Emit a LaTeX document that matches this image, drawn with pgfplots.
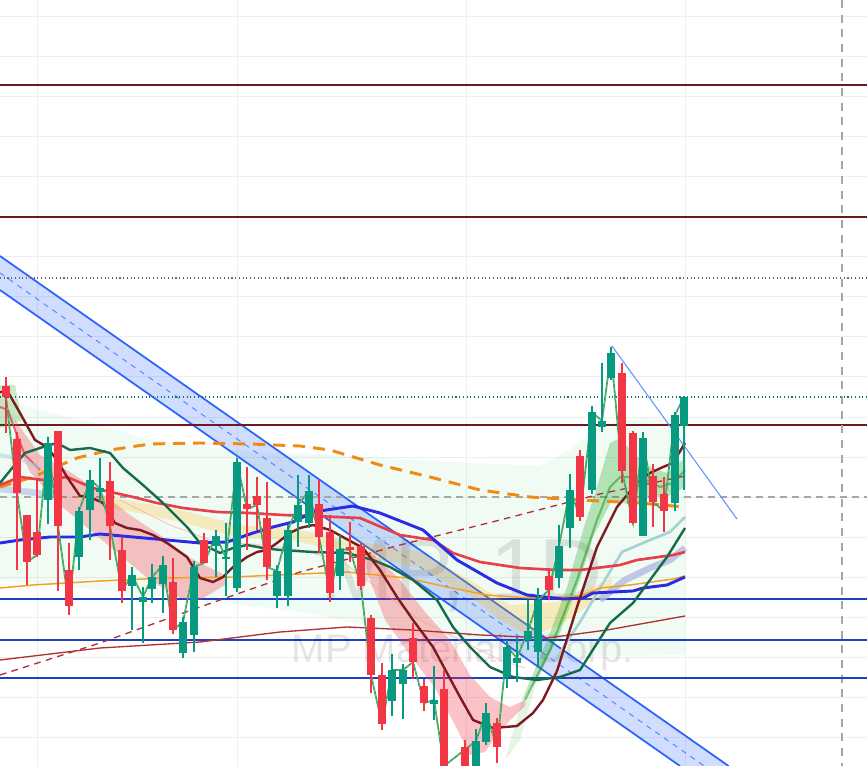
\documentclass[border=0pt]{standalone}
\usepackage{fontspec}
\setmainfont{Liberation Sans}
\usepackage{pgfplots}
\usepackage{pgfplotstable}
\pgfplotsset{compat=1.18}
\definecolor{cgreen}{HTML}{089981}
\definecolor{cred}{HTML}{F23645}
\definecolor{maroon}{HTML}{7E1A1E}
\definecolor{dkgreen}{HTML}{176B4D}
\definecolor{mablue}{HTML}{2B2BE6}
\definecolor{mared}{HTML}{E8404A}
\definecolor{maorange}{HTML}{F5A020}
\definecolor{dashorange}{HTML}{F08A12}
\definecolor{thinmaroon}{HTML}{B03035}
\definecolor{hlmaroon}{HTML}{6B1A1F}
\definecolor{hlblue}{HTML}{1E40C8}
\definecolor{chan}{HTML}{2962FF}
\definecolor{gridc}{HTML}{EEEEEE}

\pgfplotstableread{
x o h l c
6 386 377 433 397
17 439 432 570 493
27 515 515 585 562
37 532 478 557 555
58 431 431 591 526
69 570 543 615 606
110 481 462 560 526
122 550 537 603 591
173 582 558 634 630
204 540 533 563 563
247 504 467 550 509
257 496 477 530 505
267 518 482 580 567
319 504 480 553 537
330 532 515 602 593
350 547 522 562 550
361 546 543 590 586
371 618 615 693 675
382 675 663 730 724
413 638 623 679 662
424 686 679 711 703
444 689 670 766 766
465 747 740 766 766
497 723 718 763 747
549 576 568 600 590
580 456 450 521 517
622 373 363 483 471
633 433 431 524 523
653 476 464 527 502
664 494 477 532 511
}\redc

\pgfplotstableread{
x o h l c
48 500 437 524 443
79 557 507 570 511
90 510 470 540 480
100 492 458 503 488
132 586 567 630 575
143 602 587 643 597
152 589 564 603 577
163 584 556 613 565
183 653 617 658 622
194 635 561 652 567
216 546 530 577 536
226 559 523 596 557
237 588 458 592 462
277 596 565 608 571
288 596 525 606 530
298 522 475 547 505
309 523 475 528 491
340 576 535 590 549
392 701 654 716 670
403 684 664 719 670
434 704 666 720 700
476 766 729 766 741
486 742 703 745 713
507 677 640 688 647
517 663 637 682 658
528 640 600 650 631
538 652 588 666 600
559 578 525 588 546
570 528 474 548 490
592 490 406 494 412
602 427 363 432 421
611 378 347 380 353
643 536 432 536 438
675 503 412 511 415
684 426 396 490 397
}\greenc

\begin{document}
\begin{tikzpicture}
\begin{axis}[
  width=650.25pt, height=574.5pt, scale only axis,
  xmin=0, xmax=867, ymin=0, ymax=766, y dir=reverse,
  hide axis, clip=true,
]
% grid
\pgfplotsinvokeforeach{17,57,97,137,177,217,257,297,337,377,417,457,497,537,577,617,657,697,737}{
  \addplot[gridc, line width=0.75pt, forget plot] coordinates {(0,#1) (867,#1)};
}
\pgfplotsinvokeforeach{37,237,466,685}{
  \addplot[gridc, line width=0.75pt, forget plot] coordinates {(#1,0) (#1,766)};
}
% faint green cloud
\addplot[draw=none, fill=green!50!teal, fill opacity=0.06] coordinates {
 (0,398) (40,410) (100,425) (150,440) (250,452) (350,456) (450,462) (540,466) (570,450) (600,425) (640,418) (685,420)
 (685,655) (600,656) (540,660) (470,642) (400,632) (300,612) (200,600) (100,590) (0,580)} -- cycle;
% channel
\addplot[draw=none, fill=chan, fill opacity=0.22] coordinates {(0,256) (728.6,766) (680,766) (0,290)} -- cycle;
\addplot[chan, line width=1.3pt] coordinates {(0,256) (728.6,766)};
\addplot[chan, line width=1.3pt] coordinates {(0,290) (680,766)};
\addplot[chan!80, line width=0.7pt, dash pattern=on 4pt off 4pt] coordinates {(0,273) (704.3,766)};
% horizontal levels
\addplot[hlmaroon, line width=0.9pt] coordinates {(0,85) (867,85)};
\addplot[hlmaroon, line width=0.9pt] coordinates {(0,217) (867,217)};
\addplot[hlmaroon, line width=0.9pt] coordinates {(0,425) (867,425)};
\addplot[gray!80!black, line width=0.8pt, dotted] coordinates {(0,278) (867,278)};
\addplot[cgreen!80!black, line width=0.8pt, dotted] coordinates {(0,397) (867,397)};
\addplot[gray!70, line width=0.8pt, dash pattern=on 5pt off 4pt] coordinates {(0,497) (867,497)};
\addplot[gray!70, line width=0.8pt, dash pattern=on 6pt off 5pt] coordinates {(842,0) (842,766)};
\addplot[hlblue, line width=0.9pt] coordinates {(0,599) (867,599)};
\addplot[hlblue, line width=0.9pt] coordinates {(0,640) (867,640)};
\addplot[hlblue, line width=0.9pt] coordinates {(0,678) (867,678)};
% watermark
\node[text=black, opacity=0.10, font=\fontsize{66pt}{66pt}\selectfont, anchor=base] at (axis cs:462,600) {MP, 1D};
\node[text=black, opacity=0.10, font=\fontsize{30pt}{30pt}\selectfont, anchor=base] at (axis cs:463,662) {MP Materials Corp.};
% beige band
\addplot[draw=none, fill=orange!60!yellow, fill opacity=0.22] coordinates {
 (100,495) (180,510) (240,525) (290,528) (350,540) (420,552) (470,580) (510,605) (560,602) (590,588) (612,578)
 (612,590) (590,605) (560,625) (530,637) (500,620) (470,596) (420,568) (350,553) (290,540) (240,538) (180,522) (100,505)} -- cycle;
% pink bands
\addplot[draw=none, fill=cred, fill opacity=0.30] coordinates {
 (15,420) (40,455) (70,472) (100,492) (130,515) (160,535) (190,558) (225,575)
 (225,585) (200,600) (180,598) (150,580) (120,555) (90,530) (60,505) (30,472) (15,440)} -- cycle;
\addplot[draw=none, fill=cred, fill opacity=0.30] coordinates {
 (362,548) (380,560) (400,580) (425,612) (450,640) (470,675) (490,697) (510,707) (525,700)
 (525,706) (500,730) (485,752) (470,755) (455,725) (435,688) (410,655) (385,620) (368,575)} -- cycle;
\addplot[pink!80!red, line width=0.8pt, opacity=0.5] coordinates {(120,500) (170,525) (210,540) (260,545) (300,550) (340,560) (380,590) (420,620) (460,640) (500,660) (525,668)};
% green band right
\addplot[draw=none, fill=green!60!black, fill opacity=0.10] coordinates {(505,760) (522,700) (537,680) (520,740)} -- cycle;
\addplot[draw=none, fill=green!60!black, fill opacity=0.25] coordinates {
 (522,700) (550,633) (567,587) (583,530) (597,487) (610,443) (620,438) (633,453) (650,467) (667,473) (685,458)
 (685,487) (667,497) (650,497) (632,505) (612,500) (593,537) (580,580) (560,633) (537,680)} -- cycle;
\addplot[green!55!black, line width=1.6pt, opacity=0.45] coordinates {(525,700) (550,650) (577,580) (597,520) (610,487) (620,477) (640,477) (660,487) (673,483) (685,470)};
% left bits
\addplot[draw=none, fill=green!60!black, fill opacity=0.2] coordinates {(0,385) (15,385) (22,420) (0,428)} -- cycle;
\addplot[mared, line width=1.4pt, opacity=0.8] coordinates {(0,407) (8,410) (15,430) (25,455) (40,470)};
\addplot[cyan!40!teal!40, line width=3pt, opacity=0.5] coordinates {(0,455) (20,459) (40,468)};
\addplot[cyan!50!blue!35, line width=5pt, opacity=0.6] coordinates {(0,489) (30,492) (60,497)};
% light teal and light blue on right
\addplot[teal!35, line width=2pt] coordinates {(555,660) (580,622) (600,588) (622,552) (650,540) (670,532) (685,517)};
\addplot[cyan!30!blue!30, line width=5pt, opacity=0.8] coordinates {(600,600) (625,580) (650,568) (670,560) (685,548)};
% MAs
\addplot[thinmaroon, line width=1pt] coordinates {(0,660) (100,648) (200,642) (280,632) (347,627) (413,630) (480,635) (547,638) (607,630) (685,616)};
\addplot[maorange, line width=1.1pt] coordinates {(0,588) (33,585) (100,581) (167,578) (233,577) (300,574) (347,572) (407,578) (447,587) (487,595) (530,598) (580,596) (600,588) (630,585) (673,579) (685,576)};
\addplot[thinmaroon, line width=1pt, dash pattern=on 5pt off 4pt] coordinates {(0,675) (100,643) (200,607) (300,572) (400,545) (500,520) (600,494) (685,476)};
\addplot[dashorange, line width=2.2pt, dash pattern=on 9pt off 6pt] coordinates {(0,487) (33,477) (77,458) (110,450) (150,444) (200,443) (250,444) (300,446) (330,450) (380,465) (430,477) (480,490) (530,497) (580,500) (640,503) (685,507)};
\addplot[mared, line width=2pt] coordinates {(0,485) (20,477) (43,480) (67,477) (93,488) (133,497) (157,503) (183,508) (217,512) (250,513) (283,515) (313,516) (360,518) (400,535) (433,540) (453,553) (480,562) (520,568) (557,570) (580,570) (620,565) (637,560) (673,555) (685,552)};
\addplot[mablue, line width=2.2pt] coordinates {(0,543) (20,540) (50,537) (80,537) (100,534) (133,537) (167,540) (200,543) (227,542) (253,533) (273,527) (293,522) (313,512) (353,506) (380,513) (423,530) (457,560) (497,583) (527,595) (563,599) (583,598) (593,593) (633,591) (643,588) (667,585) (685,577)};
\addplot[dkgreen, line width=1.8pt] coordinates {(0,483) (13,467) (25,453) (43,447) (57,443) (70,450) (90,448) (110,453) (123,468) (143,485) (163,503) (187,527) (200,543) (220,553) (233,548) (247,545) (263,548) (280,550) (313,552) (347,553) (373,560) (390,567) (413,580) (437,600) (453,627) (470,647) (490,667) (513,677) (537,680) (560,677) (580,670) (610,623) (633,603) (650,580) (667,557) (685,528)};
\addplot[maroon, line width=1.8pt] coordinates {(0,392) (8,392) (20,413) (35,440) (47,447) (57,460) (67,477) (80,496) (90,497) (103,503) (115,523) (127,528) (140,530) (153,535) (167,543) (187,557) (200,578) (213,582) (223,577) (233,567) (247,557) (257,552) (267,550) (277,543) (290,533) (300,528) (313,525) (330,530) (363,548) (380,570) (397,597) (413,620) (433,647) (447,673) (460,697) (473,720) (493,728) (517,726) (533,713) (543,700) (557,671) (577,607) (597,547) (617,507) (637,483) (650,473) (663,467) (673,463) (685,443)};
% thin trend line
\addplot[chan!70, line width=0.8pt] coordinates {(612,346) (737,519)};
% close line
\addplot[green!60!black!80, line width=1.3pt] coordinates {(6,397) (17,493) (27,562) (37,555) (48,443) (58,526) (69,606) (79,511) (90,480) (100,488) (110,526) (122,591) (132,575) (143,597) (152,577) (163,565) (173,630) (183,622) (194,567) (204,563) (216,536) (226,558) (237,462) (247,509) (257,505) (267,567) (277,571) (288,530) (298,505) (309,491) (319,537) (330,593) (340,549) (350,550) (361,586) (371,675) (382,724) (392,670) (403,670) (413,662) (424,703) (434,700) (444,766) (476,741) (486,713) (497,747) (507,647) (517,658) (528,631) (538,600) (549,590) (559,546) (570,490) (580,517) (592,412) (602,421) (611,353) (622,471) (633,523) (643,438) (653,502) (664,511) (675,415) (684,397)};
\addplot[chan!60, line width=0.6pt, dash pattern=on 2pt off 2pt] coordinates {(6,397) (17,493) (27,562) (37,555) (48,443) (58,526) (69,606) (79,511) (90,480) (100,488) (110,526) (122,591) (132,575) (143,597) (152,577) (163,565) (173,630) (183,622) (194,567) (204,563) (216,536) (226,558) (237,462) (247,509) (257,505) (267,567) (277,571) (288,530) (298,505) (309,491) (319,537) (330,593) (340,549) (350,550) (361,586) (371,675) (382,724) (392,670) (403,670) (413,662) (424,703) (434,700) (444,766) (476,741) (486,713) (497,747) (507,647) (517,658) (528,631) (538,600) (549,590) (559,546) (570,490) (580,517) (592,412) (602,421) (611,353) (622,471) (633,523) (643,438) (653,502) (664,511) (675,415) (684,397)};
% candles
\addplot[only marks, mark size=0pt, mark options={draw=none, fill=none}, error bars/.cd, y dir=plus, y explicit, error mark=none,
  error bar style={line width=0.9pt, draw=cred}] table[x=x, y=h, y error expr=\thisrow{l}-\thisrow{h}] {\redc};
\addplot[only marks, mark size=0pt, mark options={draw=none, fill=none}, error bars/.cd, y dir=plus, y explicit, error mark=none,
  error bar style={line width=5.3pt, draw=cred}] table[x=x, y=o, y error expr={max(\thisrow{c}-\thisrow{o},2)}] {\redc};
\addplot[only marks, mark size=0pt, mark options={draw=none, fill=none}, error bars/.cd, y dir=plus, y explicit, error mark=none,
  error bar style={line width=0.9pt, draw=cgreen}] table[x=x, y=h, y error expr=\thisrow{l}-\thisrow{h}] {\greenc};
\addplot[only marks, mark size=0pt, mark options={draw=none, fill=none}, error bars/.cd, y dir=plus, y explicit, error mark=none,
  error bar style={line width=5.3pt, draw=cgreen}] table[x=x, y=c, y error expr={max(\thisrow{o}-\thisrow{c},2)}] {\greenc};
\end{axis}
\end{tikzpicture}
\end{document}
